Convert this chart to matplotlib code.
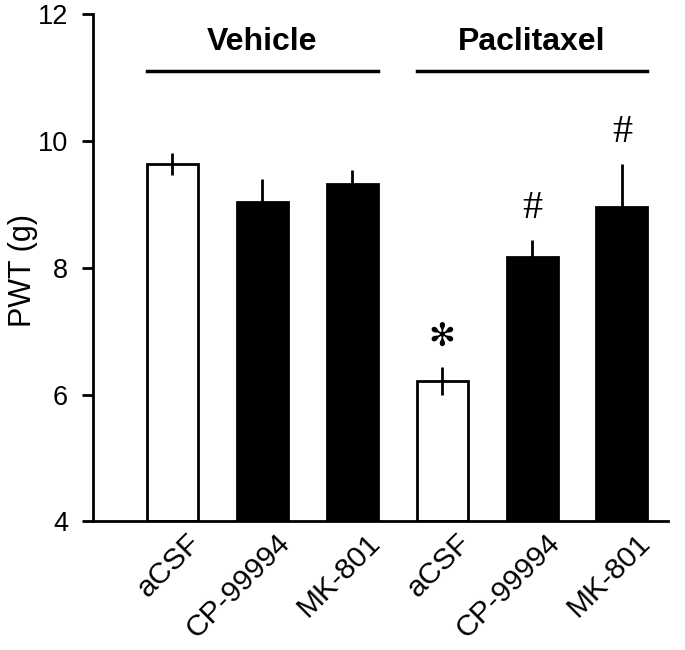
import numpy as np
import matplotlib
matplotlib.use("Agg")
import matplotlib.pyplot as plt
from matplotlib.transforms import ScaledTranslation

plt.rcParams['font.family'] = ['Liberation Sans', 'DejaVu Sans']

labels = ["aCSF", "CP-99994", "MK-801", "aCSF", "CP-99994", "MK-801"]
pwt = [9.64, 9.04, 9.33, 6.22, 8.17, 8.96]
sem = [0.17, 0.36, 0.21, 0.22, 0.27, 0.68]
colors = ["white", "black", "black", "white", "black", "black"]
marks = ["", "", "", "\u273B", "#", "#"]
groups = ["Vehicle", "Paclitaxel"]

fig = plt.figure(figsize=(6.85, 6.5), dpi=100)
ax = fig.add_axes([0.136, 0.198, 0.839, 0.78])

x = np.arange(len(pwt))
ax.bar(x, np.array(pwt) - 4, bottom=4, width=0.567, color=colors,
       edgecolor="black", linewidth=2, zorder=2)
ax.errorbar(x, pwt, yerr=sem, fmt="none", ecolor="black",
            elinewidth=2, capsize=0, zorder=3)

# significance marks
for xi, v, e, m in zip(x, pwt, sem, marks):
    if m == "#":
        ax.text(xi, v + e + 0.5, m, ha="center", va="center", fontsize=29,
                family="Liberation Serif")
    elif m:
        ax.text(xi, v + e + 0.47, m, ha="center", va="center", fontsize=23,
                family="DejaVu Sans")

# group bars and labels
for i, g in enumerate(groups):
    x0 = x[3 * i] - 0.283
    x1 = x[3 * i + 2] + 0.283
    ax.plot([x0, x1], [11.1, 11.1], color="black", lw=2.5, clip_on=False)
    ax.text((x0 + x1) / 2, 11.57, g, ha="center", va="center",
            fontsize=23, fontweight="bold")

ax.set_xlim(-0.878, 5.51)
ax.set_ylim(4, 12)
ax.set_yticks([4, 6, 8, 10, 12])
ax.set_xticks(x)
ax.set_xticklabels([])
off = ScaledTranslation(0.14, -0.07, fig.dpi_scale_trans)
for xi, lab in zip(x, labels):
    ax.text(xi, 0, lab, transform=ax.get_xaxis_transform() + off,
            rotation=45, ha="right", va="top", rotation_mode="anchor",
            fontsize=21.5)
ax.tick_params(axis="x", length=0)
ax.tick_params(axis="y", direction="out", length=8, width=2,
               labelsize=19.5, pad=10)
ax.set_ylabel("PWT (g)", fontsize=22)
ax.yaxis.set_label_coords(-0.096, 0.495)

for s in ["top", "right"]:
    ax.spines[s].set_visible(False)
for s in ["left", "bottom"]:
    ax.spines[s].set_linewidth(2)

fig.savefig("out.png", dpi=100)
plt.close(fig)
